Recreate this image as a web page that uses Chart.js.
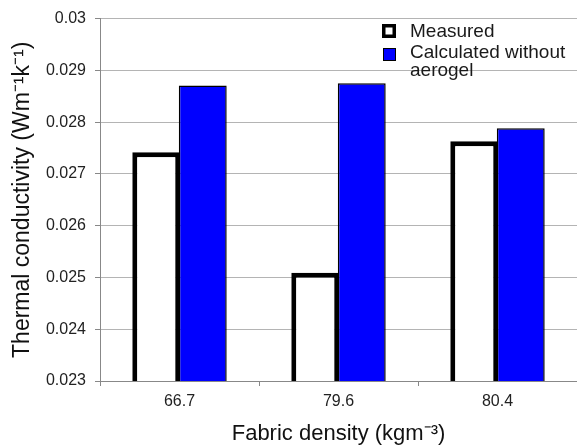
<!DOCTYPE html>
<html>
<head>
<meta charset="utf-8">
<script src="https://cdn.jsdelivr.net/npm/chart.js@4/dist/chart.umd.min.js"></script>
<style>
  html, body { margin: 0; padding: 0; background: #fff; }
  #wrap { width: 577px; height: 445px; }
</style>
</head>
<body>
<div id="wrap"><canvas id="myChart" width="577" height="445"></canvas></div>
<script>
const densities = ['66.7', '79.6', '80.4'];
const measured = [0.02742, 0.02509, 0.02763];
const calculated = [0.02871, 0.02875, 0.02788];
const seriesNames = ['Measured', 'Calculated without aerogel'];
const legendLines = [['Measured'], ['Calculated without', 'aerogel']];
const yTicks = [0.023, 0.024, 0.025, 0.026, 0.027, 0.028, 0.029, 0.03];

const fontFam = '"Liberation Sans", Arial, sans-serif';

// legend drawn inside the plot, top right
const insideLegend = {
  id: 'insideLegend',
  afterDraw(chart) {
    const c = chart.ctx;
    c.save();
    c.font = '19px ' + fontFam;
    c.textBaseline = 'alphabetic';
    // measured swatch
    c.fillStyle = '#fff';
    c.fillRect(382, 24, 14, 14);
    c.lineWidth = 3.5;
    c.strokeStyle = '#000';
    c.strokeRect(383.75, 25.75, 10.5, 10.5);
    c.fillStyle = '#1a1a1a';
    c.fillText(legendLines[0][0], 410, 37);
    // calculated swatch
    c.fillStyle = '#0000ff';
    c.fillRect(383, 48, 12, 12);
    c.lineWidth = 1;
    c.strokeStyle = '#000';
    c.strokeRect(383.5, 48.5, 12, 12);
    c.fillStyle = '#1a1a1a';
    c.fillText(legendLines[1][0], 410, 58);
    c.fillText(legendLines[1][1], 410, 76);
    c.restore();
  }
};

const ctx = document.getElementById('myChart').getContext('2d');
new Chart(ctx, {
  type: 'bar',
  data: {
    labels: densities,
    datasets: [{
      label: seriesNames[0],
      data: measured,
      backgroundColor: '#ffffff',
      borderColor: '#000000',
      borderWidth: 5,
      borderSkipped: false
    }, {
      label: seriesNames[1],
      data: calculated,
      backgroundColor: '#0000ff',
      borderColor: '#000000',
      borderWidth: 1.5,
      borderSkipped: false
    }]
  },
  options: {
    responsive: false,
    animation: false,
    layout: { padding: { top: 17, right: 0, left: 0, bottom: 0 } },
    datasets: {
      bar: { categoryPercentage: 0.585, barPercentage: 1.03 }
    },
    plugins: {
      legend: { display: false },
      tooltip: { enabled: false }
    },
    scales: {
      x: {
        grid: {
          display: true,
          drawOnChartArea: false,
          drawTicks: true,
          tickLength: 5,
          color: '#888'
        },
        border: { color: '#888', width: 1 },
        ticks: {
          color: '#222',
          font: { family: fontFam, size: 16 },
          padding: 6
        },
        title: {
          display: true,
          text: 'Fabric density (kgm\u207B\u00B3)',
          color: '#111',
          font: { family: fontFam, size: 22 },
          padding: { top: 0, bottom: -2 }
        },
        afterFit(scale) { scale.height = 64; }
      },
      y: {
        min: 0.023,
        max: 0.03,
        afterBuildTicks(scale) { scale.ticks = yTicks.map(v => ({ value: v })); },
        grid: {
          color: '#b4b4b4',
          tickColor: '#888',
          tickLength: 5
        },
        border: { color: '#888', width: 1 },
        ticks: {
          color: '#222',
          font: { family: fontFam, size: 16 },
          padding: 9,
          callback: v => String(+v.toFixed(3))
        },
        title: {
          display: true,
          text: 'Thermal conductivity (Wm\u207B\u00B9k\u207B\u00B9)',
          color: '#111',
          font: { family: fontFam, size: 23 },
          padding: { top: 9, bottom: 0 }
        },
        afterFit(scale) { scale.width = 100; }
      }
    }
  },
  plugins: [insideLegend]
});
</script>
</body>
</html>
